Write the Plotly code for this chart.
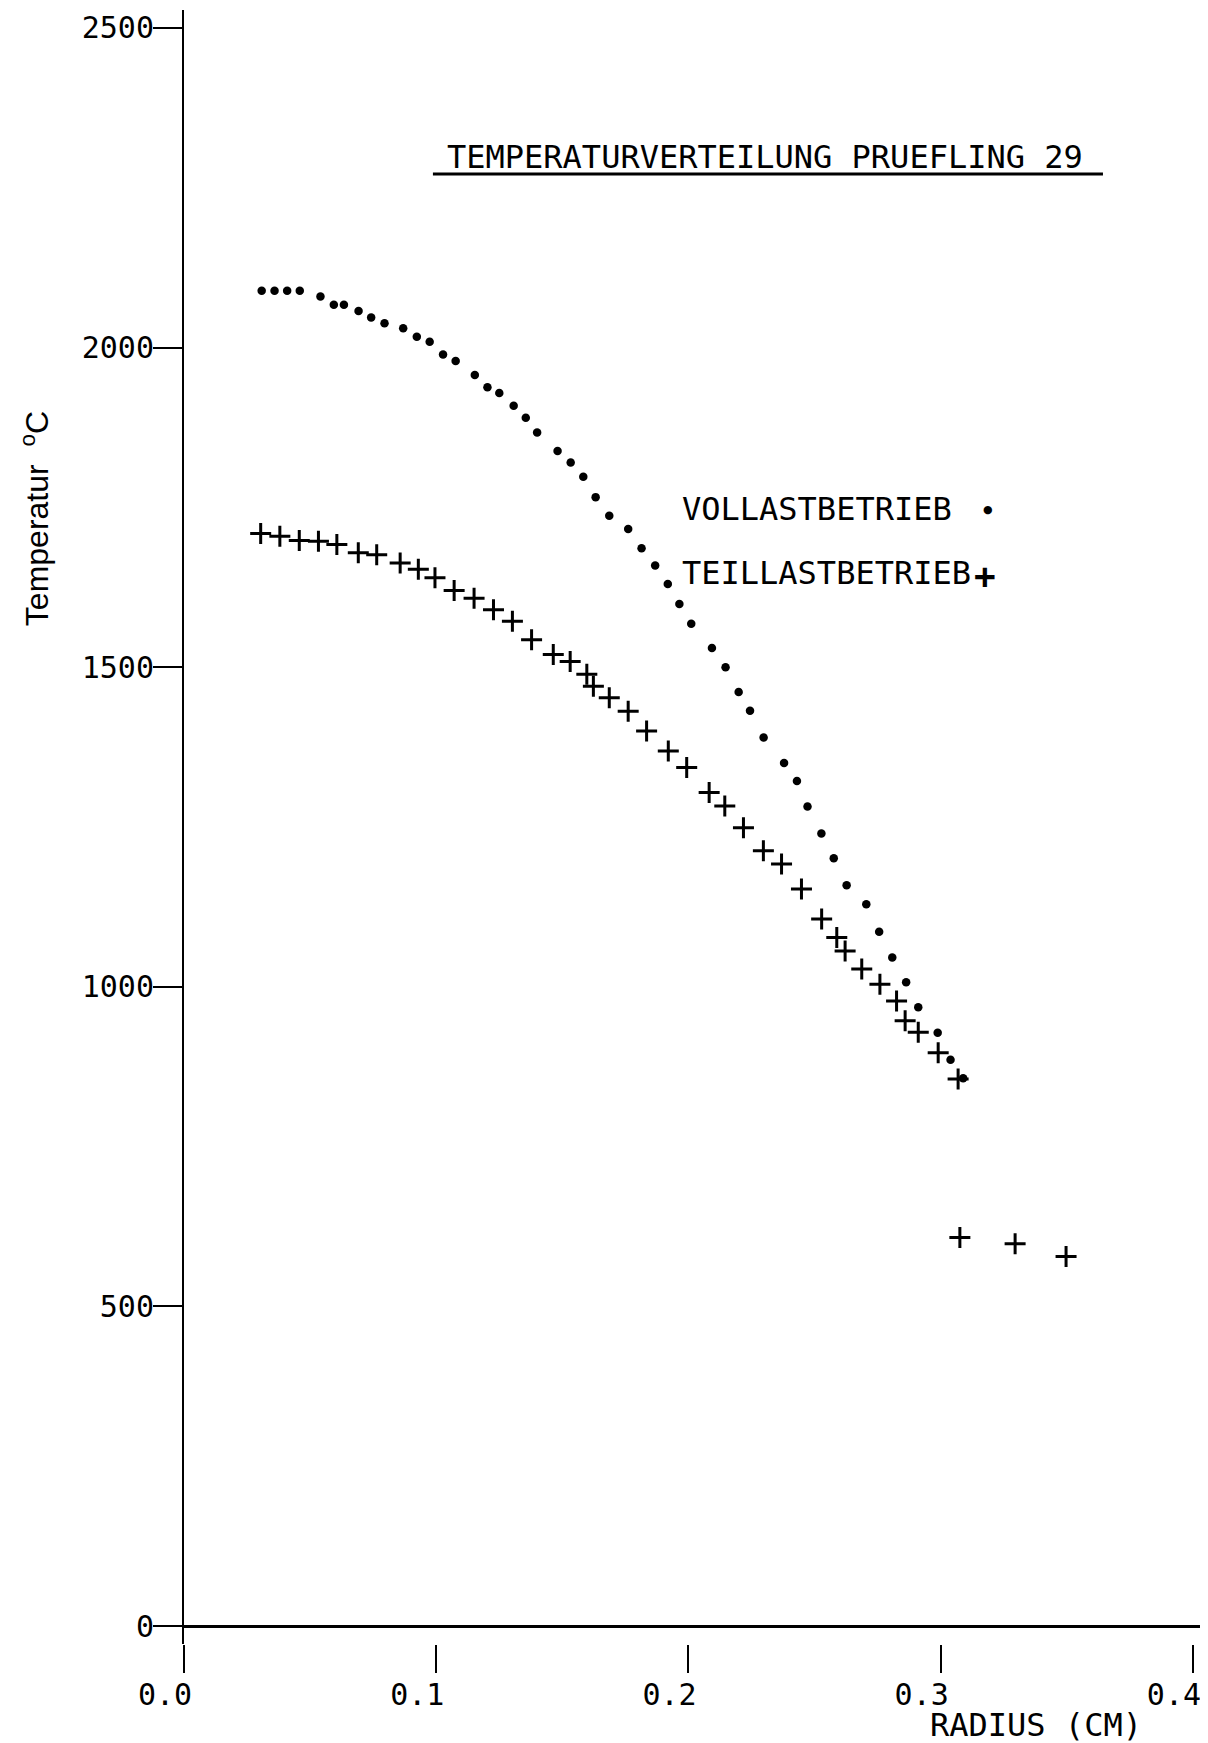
import plotly.graph_objects as go

# ---- data ----
voll_radius = [0.0308, 0.0359, 0.0409, 0.0459, 0.0541, 0.0594, 0.0634, 0.0692, 0.0742, 0.0795,
               0.0869, 0.0923, 0.0974, 0.1027, 0.1077, 0.1153, 0.1203, 0.1250, 0.1307, 0.1355,
               0.1400, 0.1481, 0.1533, 0.1583, 0.1632, 0.1686, 0.1761, 0.1814, 0.1868, 0.1918,
               0.1964, 0.2011, 0.2093, 0.2147, 0.2199, 0.2244, 0.2298, 0.2379, 0.2430, 0.2472,
               0.2527, 0.2576, 0.2627, 0.2705, 0.2756, 0.2808, 0.2863, 0.2911, 0.2988, 0.3039,
               0.3089]
voll_temp = [2089, 2089, 2089, 2089, 2080, 2067, 2067, 2057, 2047, 2038,
             2030, 2017, 2009, 1989, 1979, 1957, 1938, 1929, 1909, 1890,
             1867, 1838, 1820, 1798, 1766, 1737, 1716, 1686, 1659, 1630,
             1599, 1568, 1530, 1500, 1461, 1432, 1390, 1350, 1322, 1282,
             1240, 1201, 1159, 1129, 1086, 1046, 1007, 968, 928, 886,
             857]

teil_radius = [0.0304, 0.0380, 0.0457, 0.0533, 0.0606, 0.0691, 0.0764, 0.0857, 0.0929, 0.0995,
               0.1071, 0.1150, 0.1227, 0.1302, 0.1378, 0.1464, 0.1531, 0.1597, 0.1623, 0.1686,
               0.1761, 0.1834, 0.1920, 0.1993, 0.2082, 0.2144, 0.2218, 0.2297, 0.2369, 0.2448,
               0.2528, 0.2588, 0.2621, 0.2687, 0.2759, 0.2825, 0.2859, 0.2911, 0.2990, 0.3069,
               0.3076, 0.3295, 0.3497]
teil_temp = [1709, 1705, 1698, 1697, 1692, 1679, 1676, 1663, 1653, 1640,
             1620, 1608, 1590, 1572, 1543, 1520, 1509, 1489, 1470, 1452,
             1431, 1400, 1369, 1343, 1304, 1283, 1249, 1213, 1192, 1153,
             1106, 1077, 1056, 1028, 1004, 978, 947, 929, 897, 856,
             608, 598, 578]

x_ticks = [0.0, 0.1, 0.2, 0.3, 0.4]
x_tick_labels = ["0.0", "0.1", "0.2", "0.3", "0.4"]
y_ticks = [0, 500, 1000, 1500, 2000, 2500]
y_tick_labels = ["0", "500", "1000", "1500", "2000", "2500"]

title_text = "TEMPERATURVERTEILUNG PRUEFLING 29"
voll_label = "VOLLASTBETRIEB"
teil_label = "TEILLASTBETRIEB"
x_title = "RADIUS (CM)"
y_title = "Temperatur  <sup>o</sup>C"

MONO = "DejaVu Sans Mono"
SANS = "Liberation Sans, Arial"

fig = go.Figure()
fig.add_trace(go.Scatter(
    x=voll_radius, y=voll_temp, mode="markers", name=voll_label,
    marker=dict(symbol="circle", size=8.5, color="black", line=dict(width=0)),
    showlegend=False))
fig.add_trace(go.Scatter(
    x=teil_radius, y=teil_temp, mode="markers", name=teil_label,
    marker=dict(symbol="cross-thin", size=15, color="black",
                line=dict(width=3, color="black")),
    showlegend=False))

# page body has an 8px default margin, so the figure is 8px smaller
fig.update_layout(
    width=1200, height=1735,
    margin=dict(l=176, r=8, t=2, b=99),
    paper_bgcolor="white", plot_bgcolor="white",
    font=dict(family=MONO, size=30, color="black"),
    xaxis=dict(
        range=[0, 0.4028], showgrid=False, zeroline=False, showline=False,
        tickmode="array", tickvals=x_ticks, ticktext=x_tick_labels,
        ticks="outside", ticklen=28, tickwidth=2, tickcolor="black",
        ticklabelshift=-19, ticklabelstandoff=-4,
        tickfont=dict(family=MONO, size=30, color="black"),
    ),
    yaxis=dict(
        range=[-28, 2528], showgrid=False,
        zeroline=True, zerolinecolor="black", zerolinewidth=3,
        showline=True, linecolor="black", linewidth=2,
        tickmode="array", tickvals=y_ticks, ticktext=y_tick_labels,
        ticks="outside", ticklen=29, tickwidth=2, tickcolor="black",
        ticklabelstandoff=-7,
        tickfont=dict(family=MONO, size=30, color="black"),
    ),
)

annotations = [
    dict(text=title_text, x=0.5714, y=0.910, xref="paper", yref="paper",
         xanchor="center", yanchor="middle", showarrow=False,
         font=dict(family=MONO, size=32, color="black")),
    dict(text=voll_label, x=0.488, y=0.6946, xref="paper", yref="paper",
         xanchor="left", yanchor="middle", showarrow=False,
         font=dict(family=MONO, size=32, color="black")),
    dict(text="\u25CF", x=0.7913, y=0.6946, xref="paper", yref="paper",
         xanchor="center", yanchor="middle", showarrow=False,
         font=dict(family="DejaVu Sans", size=11, color="black")),
    dict(text=teil_label, x=0.488, y=0.6554, xref="paper", yref="paper",
         xanchor="left", yanchor="middle", showarrow=False,
         font=dict(family=MONO, size=32, color="black")),
    dict(text="<b>+</b>", x=0.788, y=0.653, xref="paper", yref="paper",
         xanchor="center", yanchor="middle", showarrow=False,
         font=dict(family=MONO, size=36, color="black")),
    dict(text=x_title, x=0.8386, y=-0.0496, xref="paper", yref="paper",
         xanchor="center", yanchor="middle", showarrow=False,
         font=dict(family=MONO, size=32, color="black")),
    dict(text=y_title, x=-0.1467, y=0.689, xref="paper", yref="paper",
         xanchor="center", yanchor="middle", showarrow=False, textangle=-90,
         font=dict(family=SANS, size=32, color="black")),
]
fig.update_layout(annotations=annotations)

fig.add_shape(type="line", xref="paper", yref="paper",
              x0=0.245, x1=0.9045, y0=0.8996, y1=0.8996,
              line=dict(color="black", width=3))

fig.write_html("out.html")
